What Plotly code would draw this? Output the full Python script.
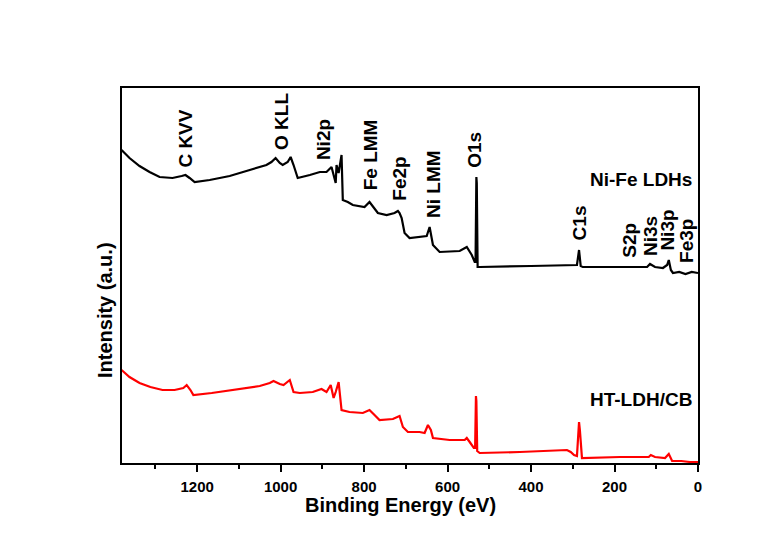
import plotly.graph_objects as go

# ---- data (Binding energy in eV, intensity in arbitrary units) ----
nife_be = [1381, 1370, 1362, 1338, 1314, 1290, 1259, 1237, 1228, 1218, 1206, 1170, 1122, 1074,
           1034, 1022, 1012, 1002, 995, 983, 976, 969, 959, 930, 906, 890, 878, 868, 866, 861,
           854, 851, 839, 827, 799, 787, 775, 767, 746, 727, 719, 715, 710, 703, 691, 674, 650,
           643, 635, 619, 571, 554, 542, 535, 533, 531, 530, 528, 523, 400, 290, 285, 281, 276,
           200, 122, 115, 103, 84, 74, 70, 65, 60, 45, 30, 15, 0]
nife_int = [313, 308, 305, 297, 291, 286, 285, 287, 288, 285, 281, 283, 287, 293,
            298, 301, 305, 300, 298, 301, 306, 298, 285, 288, 291, 291, 296, 280, 298, 290,
            308, 263, 261, 258, 256, 261, 255, 250, 248, 250, 252, 250, 245, 230, 225, 226, 227,
            236, 218, 211, 212, 216, 208, 201, 201, 286, 280, 196, 196, 197, 198, 213, 197, 196,
            196, 196, 199, 196, 195, 198, 203, 193, 190, 191, 189, 191, 190]

htcb_be = [1381, 1362, 1338, 1312, 1283, 1254, 1233, 1225, 1216, 1209, 1165, 1098, 1050, 1026,
           1017, 1002, 993, 978, 969, 954, 923, 902, 890, 880, 873, 868, 861, 854, 835, 803,
           787, 775, 763, 731, 722, 715, 707, 695, 667, 655, 647, 640, 635, 595, 559, 554, 547,
           537, 534, 532, 531, 529, 523, 427, 314, 305, 297, 290, 285, 283, 278, 187, 118, 113,
           103, 79, 70, 62, 40, 19, 0]
htcb_int = [93, 86, 80, 76, 73, 73, 75, 78, 73, 68, 70, 74, 77, 80,
            82, 79, 78, 83, 71, 70, 71, 74, 71, 78, 65, 71, 81, 53, 51, 50,
            53, 48, 43, 44, 46, 47, 36, 31, 31, 30, 38, 33, 25, 23, 23, 25, 21,
            15, 15, 67, 62, 12, 10, 11, 13, 11, 8, 7, 41, 33, 5, 6, 6, 8,
            6, 5, 9, 2, 2, 1, 1]

peak_labels = ["C KVV", "O KLL", "Ni2p", "Fe LMM", "Fe2p", "Ni LMM", "O1s",
               "C1s", "S2p", "Ni3s", "Ni3p", "Fe3p"]
peak_be = [1230, 998, 897, 784, 717, 635, 537, 283, 165, 115, 74, 29]
peak_base = [293, 311, 301, 271, 260, 243, 293, 221, 203, 205, 210, 198]

series_names = ["Ni-Fe LDHs", "HT-LDH/CB"]
series_label_int = [284, 64]

x_ticks = [1200, 1000, 800, 600, 400, 200, 0]

FONT = "Liberation Sans, Arial, sans-serif"

fig = go.Figure()
fig.add_trace(go.Scatter(x=nife_be, y=nife_int, mode="lines",
                         line=dict(color="black", width=2.2), name=series_names[0]))
fig.add_trace(go.Scatter(x=htcb_be, y=htcb_int, mode="lines",
                         line=dict(color="#ff0000", width=2.2), name=series_names[1]))

for lab, xb, yb in zip(peak_labels, peak_be, peak_base):
    fig.add_annotation(x=xb, y=yb, text="<b>%s</b>" % lab, textangle=-90, showarrow=False,
                       xanchor="center", yanchor="bottom",
                       font=dict(family=FONT, size=19, color="black"))

for nm, yv in zip(series_names, series_label_int):
    fig.add_annotation(x=10, y=yv, text="<b>%s</b>" % nm, showarrow=False,
                       xanchor="right", yanchor="middle",
                       font=dict(family=FONT, size=19, color="black"))

fig.add_annotation(xref="paper", yref="paper", x=0.484, y=-0.112,
                   text="<b>Binding Energy (eV)</b>", showarrow=False,
                   xanchor="center", yanchor="middle",
                   font=dict(family=FONT, size=20, color="black"))
fig.add_annotation(xref="paper", yref="paper", x=-0.0295, y=0.408,
                   text="<b>Intensity (a.u.)</b>", showarrow=False, textangle=-90,
                   xanchor="center", yanchor="middle",
                   font=dict(family=FONT, size=20, color="black"))

fig.update_layout(
    width=760, height=536,
    margin=dict(l=114, r=70, t=80, b=81),
    paper_bgcolor="white", plot_bgcolor="white",
    showlegend=False,
    xaxis=dict(range=[1380, 0], tickvals=x_ticks, ticktext=["<b>%d</b>" % v for v in x_ticks],
               ticks="outside", ticklen=7, tickwidth=1.5, tickcolor="black",
               minor=dict(dtick=100, ticks="outside", ticklen=4, tickwidth=1.5, tickcolor="black"),
               showline=True, linecolor="black", linewidth=1.5, mirror=True,
               showgrid=False, zeroline=False,
               tickfont=dict(family=FONT, size=15, color="black"),
               ticklabelstandoff=2),
    yaxis=dict(range=[0, 375], showticklabels=False, ticks="",
               showline=True, linecolor="black", linewidth=1.5, mirror=True,
               showgrid=False, zeroline=False),
)

fig.write_html("out.html")
